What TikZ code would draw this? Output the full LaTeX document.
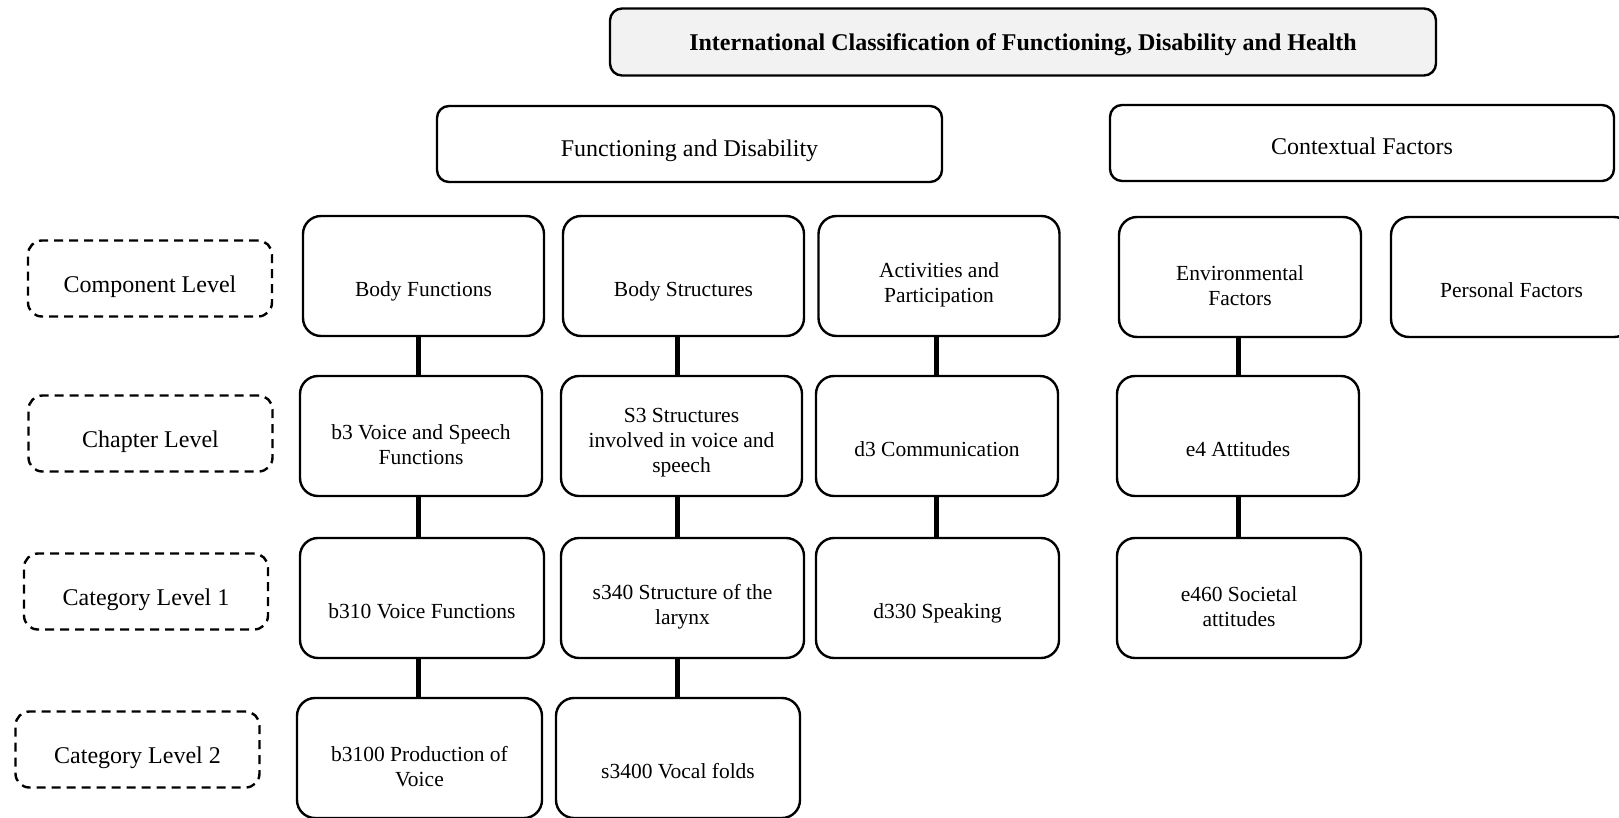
\documentclass[tikz,border=0pt]{standalone}
\usepackage{fontspec}
\setmainfont{Liberation Serif}
\definecolor{titlegray}{RGB}{242,242,242}

\begin{document}
\begin{tikzpicture}[x=1pt,y=-1pt,
    box/.style={draw,line width=2.4pt,rounded corners=18pt,minimum width=241pt,minimum height=120pt,
      inner sep=0pt,align=center,font=\fontsize{21.5}{25}\selectfont},
    oneline/.style={text height=46pt,text depth=5pt},
    twoline/.style={text height=58pt},
    threeline/.style={text height=77pt},
    headbox/.style={box,minimum width=505pt,minimum height=76pt,rounded corners=12pt,
      font=\fontsize{24}{28}\selectfont,text height=31pt,text depth=6pt},
    levelbox/.style={draw,line width=2.4pt,dash pattern=on 9pt off 6pt,rounded corners=14pt,
      minimum width=244pt,minimum height=76pt,inner sep=0pt,font=\fontsize{24}{28}\selectfont,
      text height=33pt,text depth=6pt},
    link/.style={line width=5pt}]
  \useasboundingbox (0,0) rectangle (1619,817);
  % top
  \node[headbox,minimum width=826pt,minimum height=67pt,fill=titlegray,text height=23pt,
    font=\fontsize{24}{28}\selectfont\bfseries] (icf) at (1023,42) {International Classification of Functioning, Disability and Health};
  \node[headbox] (fd) at (689.5,144) {Functioning and Disability};
  \node[headbox,minimum width=504pt,text height=29pt] (cf) at (1362,143) {Contextual Factors};
  % levels
  \node[levelbox] (lcomp) at (150,278.5) {Component Level};
  \node[levelbox] (lchap) at (150.5,433.5) {Chapter Level};
  \node[levelbox] (lcat1) at (146,591.5) {Category Level 1};
  \node[levelbox] (lcat2) at (137.5,749.5) {Category Level 2};
  % component level
  \node[box,oneline] (bf) at (423.5,276) {Body Functions};
  \node[box,oneline] (bs) at (683.5,276) {Body Structures};
  \node[box,twoline] (ap) at (939,276) {Activities and\\Participation};
  \node[box,twoline,minimum width=242pt] (ef) at (1240,277) {Environmental\\Factors};
  \node[box,oneline] (pf) at (1511.5,277) {Personal Factors};
  % chapter level
  \node[box,twoline,minimum width=242pt] (b3) at (421,436) {b3 Voice and Speech\\Functions};
  \node[box,threeline] (s3) at (681.5,436) {S3 Structures\\involved in voice and\\speech};
  \node[box,oneline,minimum width=242pt] (d3) at (937,436) {d3 Communication};
  \node[box,oneline,minimum width=242pt] (e4) at (1238,436) {e4 Attitudes};
  % category level 1
  \node[box,oneline,minimum width=244pt] (b310) at (422,598) {b310 Voice Functions};
  \node[box,twoline,minimum width=243pt] (s340) at (682.5,598) {s340 Structure of the\\larynx};
  \node[box,oneline,minimum width=243pt] (d330) at (937.5,598) {d330 Speaking};
  \node[box,twoline,minimum width=244pt] (e460) at (1239,598) {e460 Societal\\attitudes};
  % category level 2
  \node[box,twoline,minimum width=245pt] (b3100) at (419.5,758) {b3100 Production of\\Voice};
  \node[box,oneline,minimum width=244pt] (s3400) at (678,758) {s3400 Vocal folds};
  % links
  \coordinate (colb) at (418,0);
  \coordinate (cols) at (677,0);
  \coordinate (cold) at (936.5,0);
  \coordinate (cole) at (1238,0);
  \draw[link] (bf.south -| colb) -- (b3.north -| colb);
  \draw[link] (b3.south -| colb) -- (b310.north -| colb);
  \draw[link] (b310.south -| colb) -- (b3100.north -| colb);
  \draw[link] (bs.south -| cols) -- (s3.north -| cols);
  \draw[link] (s3.south -| cols) -- (s340.north -| cols);
  \draw[link] (s340.south -| cols) -- (s3400.north -| cols);
  \draw[link] (ap.south -| cold) -- (d3.north -| cold);
  \draw[link] (d3.south -| cold) -- (d330.north -| cold);
  \draw[link] (ef.south -| cole) -- (e4.north -| cole);
  \draw[link] (e4.south -| cole) -- (e460.north -| cole);
\end{tikzpicture}
\end{document}
